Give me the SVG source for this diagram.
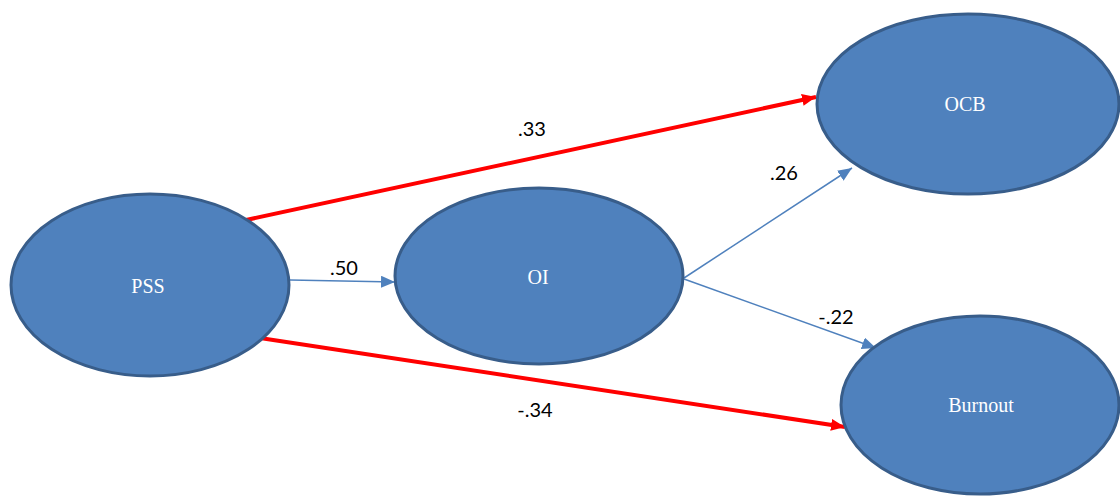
<svg xmlns="http://www.w3.org/2000/svg" width="1120" height="496" viewBox="0 0 1120 496">
<defs>
<style>
.node{fill:#4F81BD;stroke:#385D8A;stroke-width:3}
.nlabel{font-family:"Liberation Serif",serif;font-size:20px;fill:#FFFFFF;text-anchor:middle;dominant-baseline:central}
.elabel{font-family:Lato,"Liberation Sans",sans-serif;font-size:20px;fill:#000000;text-anchor:middle;dominant-baseline:central}
.red{stroke:#FF0000;stroke-width:4;fill:none;marker-end:url(#ah-red)}
.blue{stroke:#4F81BD;stroke-width:1.5;fill:none;marker-end:url(#ah-blue)}
</style>
<marker id="ah-red" markerUnits="userSpaceOnUse" markerWidth="16" markerHeight="14" refX="14" refY="6" orient="auto">
<path d="M0,0 L14,6 L0,12 Z" fill="#FF0000"/>
</marker>
<marker id="ah-blue" markerUnits="userSpaceOnUse" markerWidth="16" markerHeight="14" refX="14" refY="6" orient="auto">
<path d="M0,0 L14,6 L0,12 Z" fill="#4F81BD"/>
</marker>
</defs>
<rect width="1120" height="496" fill="#FFFFFF"/>
<g id="connectors">
<line class="red" x1="246" y1="220" x2="816" y2="97"/>
<line class="red" x1="260" y1="338" x2="845" y2="427"/>
<line class="blue" x1="290" y1="280" x2="395" y2="282"/>
<line class="blue" x1="684" y1="278" x2="852" y2="168"/>
<line class="blue" x1="684" y1="279" x2="876" y2="348"/>
<text class="elabel" x="532" y="128">.33</text>
<text class="elabel" x="535" y="409">-.34</text>
<text class="elabel" x="344" y="267">.50</text>
<text class="elabel" x="784" y="172">.26</text>
<text class="elabel" x="836" y="316">-.22</text>
</g>
<g id="PSS">
<ellipse class="node" cx="150" cy="285" rx="139" ry="91"/>
<text class="nlabel" x="148" y="286">PSS</text>
</g>
<g id="OI">
<ellipse class="node" cx="539" cy="276" rx="144" ry="88"/>
<text class="nlabel" x="538" y="277">OI</text>
</g>
<g id="OCB">
<ellipse class="node" cx="968" cy="104" rx="151" ry="90"/>
<text class="nlabel" x="965" y="104">OCB</text>
</g>
<g id="Burnout">
<ellipse class="node" cx="980" cy="405" rx="139" ry="89"/>
<text class="nlabel" x="981" y="405">Burnout</text>
</g>
</svg>
